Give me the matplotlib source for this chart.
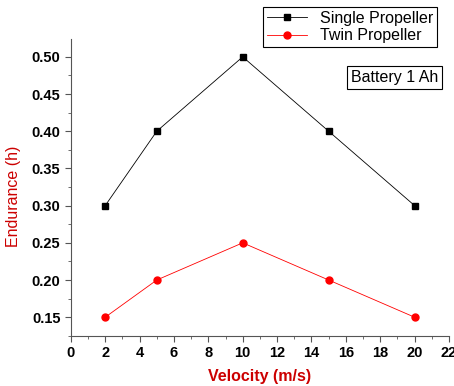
import numpy as np
import matplotlib.pyplot as plt
from matplotlib.ticker import MultipleLocator

plt.rcParams['font.family'] = ['Liberation Sans', 'DejaVu Sans']

velocity = [2, 5, 10, 15, 20]
single_prop = [0.30, 0.40, 0.50, 0.40, 0.30]
twin_prop = [0.15, 0.20, 0.25, 0.20, 0.15]

fig = plt.figure(figsize=(4.54, 3.86), dpi=100)
ax = fig.add_axes([0.156, 0.13, 0.833, 0.769])

ax.plot(velocity, single_prop, color='black', lw=0.6, marker='s', ms=5, label='Single Propeller')
ax.plot(velocity, twin_prop, color='red', lw=0.6, marker='o', ms=5, label='Twin Propeller')

ax.set_xlim(0, 22)
ax.set_ylim(0.125, 0.524)
ax.xaxis.set_major_locator(MultipleLocator(2))
ax.xaxis.set_minor_locator(MultipleLocator(1))
ax.yaxis.set_major_locator(MultipleLocator(0.05))
ax.yaxis.set_minor_locator(MultipleLocator(0.025))
ax.yaxis.set_major_formatter(plt.FormatStrFormatter('%.2f'))

for s in ['top', 'right']:
    ax.spines[s].set_visible(False)
for s in ['left', 'bottom']:
    ax.spines[s].set_color('#555555')
    ax.spines[s].set_linewidth(0.8)
ax.tick_params(which='major', direction='out', length=4, width=0.8, color='#555555', labelsize=10.5)
ax.tick_params(which='minor', direction='out', length=2, width=0.6, color='#555555')
for lbl in ax.get_xticklabels() + ax.get_yticklabels():
    lbl.set_fontweight('bold')

ax.set_xlabel('Velocity (m/s)', color='#cc0000', fontsize=11.5, fontweight='bold', labelpad=6)
ax.set_ylabel('Endurance (h)', color='#cc0000', fontsize=11.5)
ax.yaxis.set_label_coords(-0.132, 0.47)

leg = ax.legend(loc='upper right', bbox_to_anchor=(0.968, 1.108), fontsize=11.5,
                fancybox=False, framealpha=1, edgecolor='black',
                borderpad=0.25, labelspacing=0.15, handlelength=2.5, borderaxespad=0)
leg.get_frame().set_linewidth(0.8)

ax.text(0.972, 0.869, 'Battery 1 Ah', transform=ax.transAxes, ha='right', va='center', fontsize=11.5,
        bbox=dict(boxstyle='square,pad=0.25', fc='white', ec='black', lw=0.8))

fig.savefig('out.png', dpi=100)
